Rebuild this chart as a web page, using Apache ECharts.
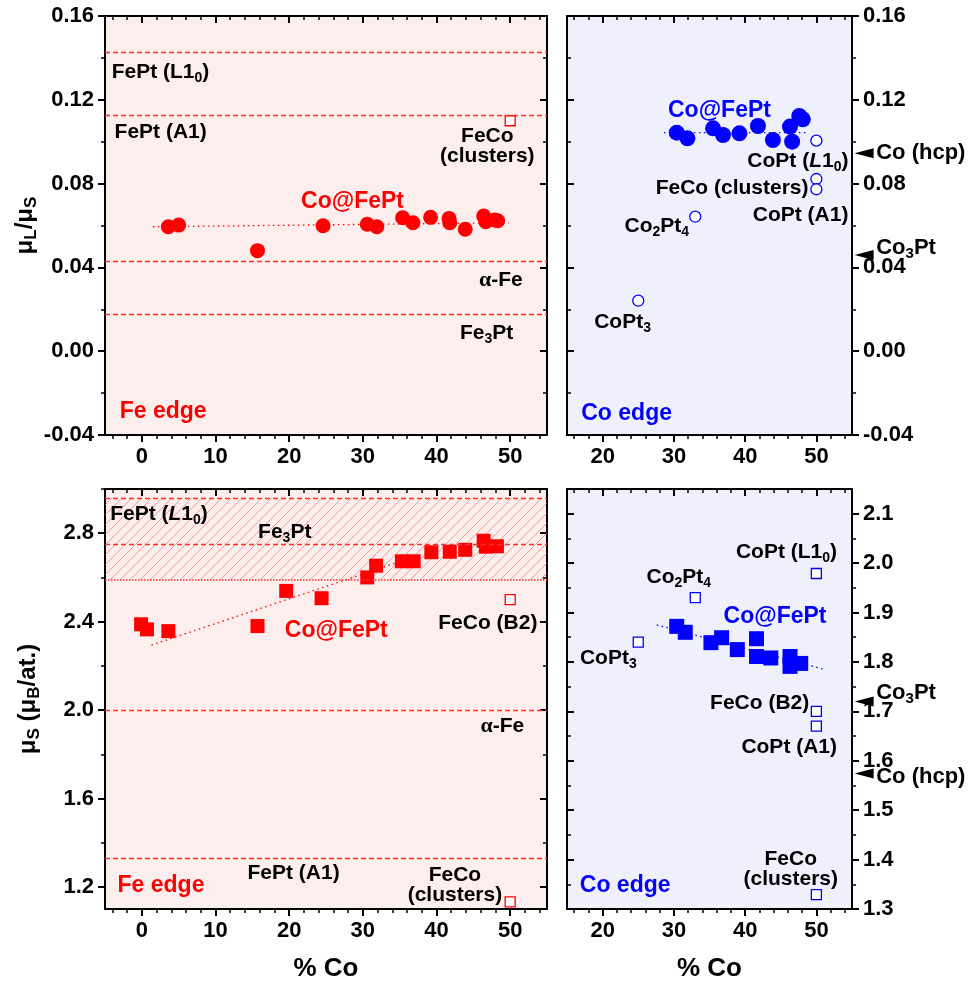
<!DOCTYPE html>
<html><head><meta charset="utf-8">
<script src="https://cdn.jsdelivr.net/npm/echarts@6/dist/echarts.min.js"></script>
<style>html,body{margin:0;padding:0;background:#fff}#c{width:974px;height:985px}</style>
</head><body><div id="c"></div>
<script>
// ---------------- DATA ----------------
// Top-left: Fe edge, muL/muS
const feRatioX = [3.6, 5.0, 15.7, 24.6, 30.6, 31.9, 35.4, 36.8, 39.2, 41.7, 41.8, 43.9, 46.4, 46.7, 47.9, 48.3];
const feRatioY = [0.0594, 0.0602, 0.0480, 0.0599, 0.0606, 0.0594, 0.0637, 0.0613, 0.0639, 0.0634, 0.0613, 0.0582, 0.0645, 0.0618, 0.0626, 0.0623];
const feRatioFitX = [1.5, 49.8];
const feRatioFitY = [0.0594, 0.0613];
const feRatioRefs = [0.1425, 0.1125, 0.0427, 0.0174];
const feRatioOpenX = [50];
const feRatioOpenY = [0.110];

// Top-right: Co edge, muL/muS
const coRatioX = [30.4, 31.9, 35.5, 36.9, 39.2, 41.8, 43.9, 46.3, 46.6, 47.6, 48.1];
const coRatioY = [0.1043, 0.1016, 0.1064, 0.1032, 0.1040, 0.1075, 0.1008, 0.1072, 0.1000, 0.1123, 0.1107];
const coRatioFitX = [28.6, 48.6];
const coRatioFitY = [0.1043, 0.1043];
const coRatioOpenX = [50, 50, 50, 33, 25];
const coRatioOpenY = [0.1005, 0.0822, 0.0773, 0.0642, 0.0241];
const coRatioArrows = [0.0945, 0.0459];

// Bottom-left: Fe edge, muS
const feMsX = [-0.1, 0.7, 3.6, 15.7, 19.6, 24.4, 30.6, 31.8, 35.3, 36.9, 39.3, 41.8, 43.9, 46.4, 46.7, 48.2];
const feMsY = [2.388, 2.365, 2.357, 2.380, 2.539, 2.506, 2.600, 2.653, 2.673, 2.673, 2.714, 2.716, 2.725, 2.766, 2.739, 2.741];
const feMsFitX = [1.3, 38];
const feMsFitY = [2.294, 2.705];
const feMsRefsDashed = [2.96, 2.75, 2.0, 1.33];
const feMsRefsDotted = [2.59];
const feMsBand = [2.59, 2.96];
const feMsOpenX = [50, 50];
const feMsOpenY = [2.50, 1.132];

// Bottom-right: Co edge, muS
const coMsX = [30.4, 31.6, 35.2, 36.7, 38.9, 41.6, 41.6, 43.6, 46.3, 46.3, 47.8];
const coMsY = [1.872, 1.860, 1.839, 1.849, 1.825, 1.847, 1.811, 1.808, 1.811, 1.791, 1.797];
const coMsFitX = [27.6, 51.1];
const coMsFitY = [1.875, 1.785];
const coMsOpenX = [25, 33, 50, 50, 50, 50];
const coMsOpenY = [1.840, 1.930, 1.979, 1.700, 1.670, 1.329];
const coMsArrows = [1.72, 1.574];

// Tick values
const xMajorFe = [0, 10, 20, 30, 40, 50];
const xMinorFe = [-4, -2, 2, 4, 6, 8, 12, 14, 16, 18, 22, 24, 26, 28, 32, 34, 36, 38, 42, 44, 46, 48, 52, 54];
const xMajorCo = [20, 30, 40, 50];
const xMinorCo = [16, 18, 22, 24, 26, 28, 32, 34, 36, 38, 42, 44, 46, 48, 52, 54];
const yMajorRatio = [-0.04, 0, 0.04, 0.08, 0.12, 0.16];
const yMinorRatio = [-0.02, 0.02, 0.06, 0.10, 0.14];
const yMajorFeMs = [1.2, 1.6, 2.0, 2.4, 2.8];
const yMinorFeMs = [1.4, 1.8, 2.2, 2.6, 3.0];
const yMajorCoMs = [1.3, 1.4, 1.5, 1.6, 1.7, 1.8, 1.9, 2.0, 2.1];
const yMinorCoMs = [1.35, 1.45, 1.55, 1.65, 1.75, 1.85, 1.95, 2.05];

// Annotation texts: [text, x, y, align]
const annTL = [
  ['FePt (L1{s|0})', -4.1, 0.1333, 'left'],
  ['FePt (A1)', -3.7, 0.1046, 'left'],
  ['FeCo\n(clusters)', 46.9, 0.0980, 'center'],
  ['{g|α}-Fe', 51.7, 0.0340, 'right'],
  ['Fe{s|3}Pt', 46.8, 0.0087, 'center']
];
const bigTL = [['Co@FePt', 28.6, 0.0714, 'center', 'red'], ['Fe edge', -3.0, -0.029, 'left', 'red']];
const annTR = [
  ['CoPt ({i|L}1{s|0})', 54.5, 0.0908, 'right'],
  ['FeCo (clusters)', 48.9, 0.0779, 'right'],
  ['CoPt (A1)', 54.5, 0.0650, 'right'],
  ['Co{s|2}Pt{s|4}', 27.6, 0.0598, 'center'],
  ['CoPt{s|3}', 22.8, 0.0140, 'center']
];
const bigTR = [['Co@FePt', 36.4, 0.1147, 'center', 'blue'], ['Co edge', 17.0, -0.030, 'left', 'blue']];
const annBL = [
  ['FePt ({i|L}1{s|0})', -4.3, 2.888, 'left'],
  ['Fe{s|3}Pt', 19.4, 2.806, 'center'],
  ['FeCo (B2)', 53.7, 2.392, 'right'],
  ['{g|α}-Fe', 51.9, 1.925, 'right'],
  ['FePt (A1)', 20.6, 1.262, 'center'],
  ['FeCo\n(clusters)', 42.5, 1.206, 'center']
];
const bigBL = [['Co@FePt', 26.4, 2.357, 'center', 'red'], ['Fe edge', -3.3, 1.206, 'left', 'red']];
const annBR = [
  ['CoPt (L1{s|0})', 52.9, 2.022, 'right'],
  ['Co{s|2}Pt{s|4}', 30.7, 1.971, 'center'],
  ['CoPt{s|3}', 20.8, 1.808, 'center'],
  ['FeCo (B2)', 49.0, 1.717, 'right'],
  ['CoPt (A1)', 52.9, 1.628, 'right'],
  ['FeCo\n(clusters)', 46.4, 1.380, 'center']
];
const bigBR = [['Co@FePt', 44.2, 1.892, 'center', 'blue'], ['Co edge', 16.8, 1.347, 'left', 'blue']];
const arrowNamesTR = ['Co (hcp)', 'Co{s|3}Pt'];
const arrowNamesBR = ['Co{s|3}Pt', 'Co (hcp)'];
const arrowX = 56.7, arrowTextX = 58.4;

// ---------------- STYLE ----------------
const F = '"Liberation Sans", Arial, Helvetica, sans-serif';
const RED = '#ff0000', BLUE = '#0000ff', REF = '#ff3030';
const PINK = '#fdeeee', LAV = '#f0f0fc';
const RICH = {
  s: {fontSize: 14, fontWeight: 'bold', fontFamily: F, padding: [12, 0, 0, 0]},
  i: {fontSize: 21, fontWeight: 'bold', fontStyle: 'italic', fontFamily: F},
  g: {fontSize: 22, fontWeight: 'bold', fontFamily: '"Liberation Serif", "Times New Roman", serif'}
};

// hatch pattern
const pc = document.createElement('canvas');
pc.width = 10; pc.height = 10;
const pctx = pc.getContext('2d');
pctx.strokeStyle = 'rgba(240,110,110,0.75)';
pctx.lineWidth = 0.9;
pctx.beginPath();
pctx.moveTo(0, 10); pctx.lineTo(10, 0);
pctx.moveTo(-1, 1); pctx.lineTo(1, -1);
pctx.moveTo(9, 11); pctx.lineTo(11, 9);
pctx.stroke();

const grids = [
  {left: 105, top: 16, width: 442, height: 419, show: true, backgroundColor: PINK, borderWidth: 0},
  {left: 567, top: 16, width: 285, height: 419, show: true, backgroundColor: LAV, borderWidth: 0},
  {left: 105, top: 489, width: 442, height: 420, show: true, backgroundColor: PINK, borderWidth: 0},
  {left: 567, top: 489, width: 285, height: 420, show: true, backgroundColor: LAV, borderWidth: 0}
];

const axLine = {show: true, onZero: false, lineStyle: {color: '#000', width: 2}};
const tickFont = {fontSize: 22, fontWeight: 'bold', fontFamily: F, color: '#000'};

function makeX(g, min, max, majors, minors, name) {
  const base = {gridIndex: g, type: 'value', min: min, max: max, splitLine: {show: false}, animation: false};
  const out = [];
  out.push(Object.assign({}, base, {
    position: 'bottom', axisLine: axLine,
    axisTick: {show: true, customValues: majors, length: 7, inside: false, lineStyle: {color: '#000', width: 2}},
    axisLabel: Object.assign({show: true, customValues: majors, margin: 11}, tickFont),
    name: name || '', nameLocation: 'middle', nameGap: 47,
    nameTextStyle: {fontSize: 26, fontWeight: 'bold', fontFamily: F, color: '#000'}
  }));
  out.push(Object.assign({}, base, {
    position: 'bottom', axisLine: {show: false, onZero: false},
    axisTick: {show: true, customValues: minors, length: 4, inside: false, lineStyle: {color: '#000', width: 1.5}},
    axisLabel: {show: false}
  }));
  out.push(Object.assign({}, base, {
    position: 'top', axisLine: axLine,
    axisTick: {show: true, customValues: majors, length: 7, inside: true, lineStyle: {color: '#000', width: 2}},
    axisLabel: {show: false}
  }));
  out.push(Object.assign({}, base, {
    position: 'top', axisLine: {show: false, onZero: false},
    axisTick: {show: true, customValues: minors, length: 4, inside: true, lineStyle: {color: '#000', width: 1.5}},
    axisLabel: {show: false}
  }));
  return out;
}

function makeY(g, min, max, majors, minors, labelSide, digits, name) {
  const base = {gridIndex: g, type: 'value', min: min, max: max, splitLine: {show: false}, animation: false};
  const other = labelSide === 'left' ? 'right' : 'left';
  const out = [];
  out.push(Object.assign({}, base, {
    position: labelSide, axisLine: axLine,
    axisTick: {show: true, customValues: majors, length: 7, inside: false, lineStyle: {color: '#000', width: 2}},
    axisLabel: Object.assign({show: true, customValues: majors, margin: 11, formatter: v => Number(v).toFixed(digits)}, tickFont),
    name: name || '', nameLocation: 'middle', nameGap: 62, nameRotate: 90,
    nameTextStyle: {fontSize: 24, fontWeight: 'bold', fontFamily: F, color: '#000',
      rich: {m: {fontSize: 24, fontWeight: 'bold', fontFamily: F}, b: {fontSize: 17, fontWeight: 'bold', fontFamily: F, padding: [12, 0, 0, 0]}}}
  }));
  out.push(Object.assign({}, base, {
    position: labelSide, axisLine: {show: false, onZero: false},
    axisTick: {show: true, customValues: minors, length: 4, inside: false, lineStyle: {color: '#000', width: 1.5}},
    axisLabel: {show: false}
  }));
  out.push(Object.assign({}, base, {
    position: other, axisLine: axLine,
    axisTick: {show: true, customValues: majors, length: 7, inside: true, lineStyle: {color: '#000', width: 2}},
    axisLabel: {show: false}
  }));
  out.push(Object.assign({}, base, {
    position: other, axisLine: {show: false, onZero: false},
    axisTick: {show: true, customValues: minors, length: 4, inside: true, lineStyle: {color: '#000', width: 1.5}},
    axisLabel: {show: false}
  }));
  return out;
}

const xAxes = [].concat(
  makeX(0, -5, 55, xMajorFe, xMinorFe),
  makeX(1, 15, 55, xMajorCo, xMinorCo),
  makeX(2, -5, 55, xMajorFe, xMinorFe, '% Co'),
  makeX(3, 15, 55, xMajorCo, xMinorCo, '% Co')
);
const yAxes = [].concat(
  makeY(0, -0.04, 0.16, yMajorRatio, yMinorRatio, 'left', 2, '{m|μ}{b|L}{m|/μ}{b|S}'),
  makeY(1, -0.04, 0.16, yMajorRatio, yMinorRatio, 'right', 2),
  makeY(2, 1.1, 3.0, yMajorFeMs, yMinorFeMs, 'left', 1, '{m|μ}{b|S}{m| (μ}{b|B}{m|/at.)}'),
  makeY(3, 1.3, 2.15, yMajorCoMs, yMinorCoMs, 'right', 1)
);

function zip(xs, ys) { return xs.map((x, i) => [x, ys[i]]); }
function ax(g) { return {xAxisIndex: 4 * g, yAxisIndex: 4 * g}; }

const series = [];

function refLines(g, dashed, dotted, band) {
  const data = dashed.map(v => ({yAxis: v, lineStyle: {type: [5, 3], color: REF, width: 1.4}}));
  (dotted || []).forEach(v => data.push({yAxis: v, lineStyle: {type: [1.5, 1.5], color: REF, width: 1.6}}));
  const s = Object.assign({type: 'line', data: [], silent: true, z: 1,
    markLine: {silent: true, precision: 5, symbol: ['none', 'none'], label: {show: false}, animation: false, data: data}}, ax(g));
  if (band) {
    s.markArea = {silent: true, precision: 5, animation: false, itemStyle: {color: {image: pc, repeat: 'repeat'}},
      data: [[{yAxis: band[0]}, {yAxis: band[1]}]]};
  }
  series.push(s);
}

function fit(g, xs, ys, color) {
  series.push(Object.assign({type: 'line', data: zip(xs, ys), symbol: 'none', silent: true, z: 2,
    lineStyle: {type: [1.5, 3.5], color: color, width: 1.3}}, ax(g)));
}

function pts(g, xs, ys, symbol, size, color, open) {
  series.push(Object.assign({type: 'scatter', data: zip(xs, ys), symbol: symbol, symbolSize: size, z: 3,
    itemStyle: open ? {color: '#fff', borderColor: color, borderWidth: 1.3, opacity: 1} : {color: color, opacity: 1}}, ax(g)));
}

function texts(g, list, size, color) {
  series.push(Object.assign({type: 'scatter', symbolSize: 0, silent: true, z: 10, clip: false,
    itemStyle: {opacity: 1},
    data: list.map(a => ({name: a[0], value: [a[1], a[2]],
      label: {align: a[3], color: a[4] === 'red' ? RED : (a[4] === 'blue' ? BLUE : color)}})),
    label: {show: true, position: 'inside', verticalAlign: 'middle', formatter: p => p.name, opacity: 1,
      fontSize: size, fontWeight: 'bold', fontFamily: F, color: color, lineHeight: size - 1, rich: RICH}}, ax(g)));
}

function arrows(g, ys, names, offsets) {
  series.push(Object.assign({type: 'scatter', clip: false, silent: true, z: 10,
    data: ys.map(y => [arrowX, y]), symbol: 'triangle', symbolRotate: 90, symbolSize: [10, 19],
    itemStyle: {color: '#000', opacity: 1}}, ax(g)));
  series.push(Object.assign({type: 'scatter', clip: false, silent: true, z: 10, symbolSize: 0,
    itemStyle: {opacity: 1},
    data: ys.map((y, i) => ({name: names[i], value: [arrowTextX, y], label: {offset: [0, offsets[i]]}})),
    label: {show: true, position: 'inside', align: 'left', verticalAlign: 'middle', formatter: p => p.name, opacity: 1,
      fontSize: 22, fontWeight: 'bold', fontFamily: F, color: '#000',
      rich: {s: {fontSize: 15, fontWeight: 'bold', fontFamily: F, padding: [12, 0, 0, 0]}}}}, ax(g)));
}

// Panel 0
refLines(0, feRatioRefs);
fit(0, feRatioFitX, feRatioFitY, RED);
pts(0, feRatioX, feRatioY, 'circle', 15, RED, false);
pts(0, feRatioOpenX, feRatioOpenY, 'rect', 10, RED, true);
texts(0, annTL, 21, '#000');
texts(0, bigTL, 23, '#000');
// Panel 1
fit(1, coRatioFitX, coRatioFitY, BLUE);
pts(1, coRatioX, coRatioY, 'circle', 16, BLUE, false);
pts(1, coRatioOpenX, coRatioOpenY, 'circle', 11, BLUE, true);
texts(1, annTR, 21, '#000');
texts(1, bigTR, 23, '#000');
arrows(1, coRatioArrows, arrowNamesTR, [0, -7]);
// Panel 2
refLines(2, feMsRefsDashed, feMsRefsDotted, feMsBand);
fit(2, feMsFitX, feMsFitY, RED);
pts(2, feMsX, feMsY, 'rect', 14, RED, false);
pts(2, feMsOpenX, feMsOpenY, 'rect', 10, RED, true);
texts(2, annBL, 21, '#000');
texts(2, bigBL, 23, '#000');
// Panel 3
fit(3, coMsFitX, coMsFitY, BLUE);
pts(3, coMsX, coMsY, 'rect', 15, BLUE, false);
pts(3, coMsOpenX, coMsOpenY, 'rect', 10, BLUE, true);
texts(3, annBR, 21, '#000');
texts(3, bigBR, 23, '#000');
arrows(3, coMsArrows, arrowNamesBR, [-9, 3]);

const chart = echarts.init(document.getElementById('c'), null, {renderer: 'canvas'});
chart.setOption({
  animation: false,
  backgroundColor: '#fff',
  textStyle: {fontFamily: F},
  grid: grids,
  xAxis: xAxes,
  yAxis: yAxes,
  series: series
});
</script>
</body></html>
